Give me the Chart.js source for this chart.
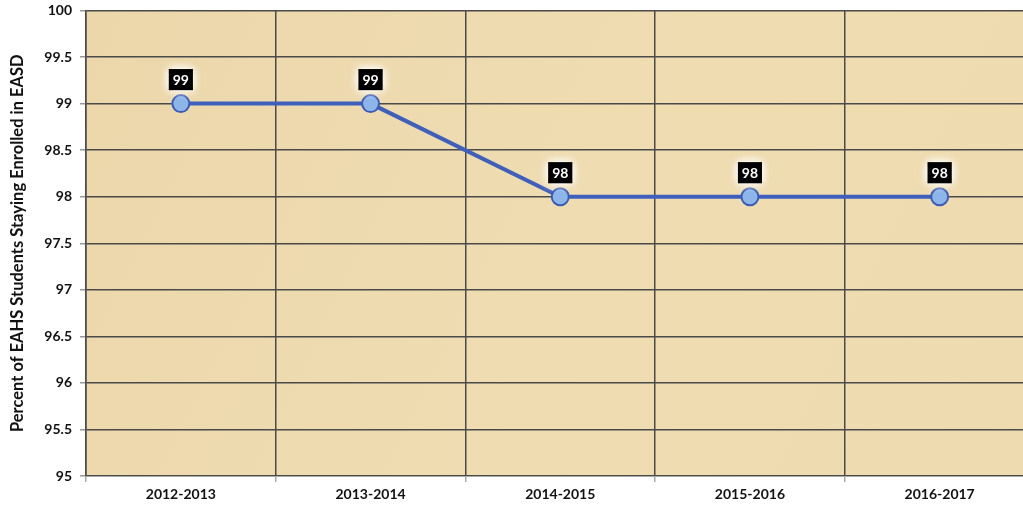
<!DOCTYPE html>
<html>
<head>
<meta charset="utf-8">
<script src="https://cdn.jsdelivr.net/npm/chart.js@4"></script>
<style>
  html, body { margin: 0; padding: 0; background: #fff; overflow: hidden; }
</style>
</head>
<body>
<canvas id="enrollChart" width="1045" height="507"></canvas>
<script>
const years = ["2012-2013", "2013-2014", "2014-2015", "2015-2016", "2016-2017"];
const percentStaying = [99, 99, 98, 98, 98];
const yTicks = [95, 95.5, 96, 96.5, 97, 97.5, 98, 98.5, 99, 99.5, 100];

const fontFamily = "Lato, 'Open Sans', sans-serif";

// parchment-ish fill behind the plot
const plotBackground = {
  id: "plotBackground",
  beforeDraw(chart) {
    const { ctx, chartArea: a } = chart;
    ctx.save();
    const g = ctx.createLinearGradient(a.left, a.top, a.right, a.bottom);
    g.addColorStop(0, "#ebd7aa");
    g.addColorStop(0.5, "#efdcb1");
    g.addColorStop(1, "#eedbaf");
    ctx.fillStyle = g;
    ctx.fillRect(a.left, a.top, a.right - a.left, a.bottom - a.top);
    ctx.restore();
  }
};

// black value boxes above each point
const valueBoxes = {
  id: "valueBoxes",
  afterDatasetsDraw(chart) {
    const { ctx } = chart;
    const meta = chart.getDatasetMeta(0);
    ctx.save();
    meta.data.forEach((pt, i) => {
      const w = 24, h = 21;
      const cy = pt.y - 24;
      ctx.shadowColor = "rgba(255,255,255,1)";
      ctx.shadowBlur = 10;
      ctx.fillStyle = "#000";
      ctx.fillRect(pt.x - w / 2, cy - h / 2, w, h);
      ctx.fillRect(pt.x - w / 2, cy - h / 2, w, h);
      ctx.shadowBlur = 0;
      ctx.fillStyle = "#fff";
      ctx.font = "bold 14px " + fontFamily;
      ctx.textAlign = "center";
      ctx.textBaseline = "middle";
      ctx.fillText(String(percentStaying[i]), pt.x, cy + 1);
    });
    ctx.restore();
  }
};

const ctx = document.getElementById("enrollChart").getContext("2d");

new Chart(ctx, {
  type: "line",
  data: {
    labels: years,
    datasets: [
      {
        label: "Percent staying",
        data: percentStaying,
        borderColor: "#3f5fbd",
        borderWidth: 4,
        pointRadius: 8.5,
        pointHoverRadius: 8.5,
        pointBackgroundColor: "#8cb5ea",
        pointBorderColor: "#3a5cb8",
        pointBorderWidth: 2,
        fill: false,
        tension: 0
      }
    ]
  },
  options: {
    responsive: false,
    animation: false,
    layout: { padding: { top: 10, right: 0, left: 0, bottom: 0 } },
    plugins: {
      legend: { display: false },
      tooltip: { enabled: false }
    },
    scales: {
      x: {
        offset: true,
        grid: {
          offset: true,
          color: "#4a4a4a",
          lineWidth: 1.5,
          drawTicks: true,
          tickLength: 6,
          tickColor: "#aaa"
        },
        border: { color: "#aaa", width: 1 },
        ticks: {
          color: "#111",
          font: { family: fontFamily, size: 14, weight: "bold" },
          padding: 4
        },
        afterFit(scale) {
          scale.height = 31;
          scale.paddingLeft = 0;
          scale.paddingRight = 0;
        }
      },
      y: {
        min: 95,
        max: 100,
        afterBuildTicks(scale) {
          scale.ticks = yTicks.map(v => ({ value: v }));
        },
        grid: {
          color: "#4a4a4a",
          lineWidth: 1.5,
          tickLength: 6,
          tickColor: "#999"
        },
        border: { color: "#4a4a4a", width: 1.5 },
        ticks: {
          color: "#111",
          font: { family: fontFamily, size: 14, weight: "bold" },
          padding: 8,
          callback: v => String(v)
        },
        title: {
          display: true,
          text: "Percent of EAHS Students Staying Enrolled in EASD",
          color: "#111",
          font: { family: fontFamily, size: 16.5, weight: "bold" },
          padding: { top: 8, bottom: 4 }
        },
        afterFit(scale) {
          scale.width = 86;
          scale.paddingTop = 0;
          scale.paddingBottom = 0;
        }
      }
    }
  },
  plugins: [plotBackground, valueBoxes]
});
</script>
</body>
</html>
